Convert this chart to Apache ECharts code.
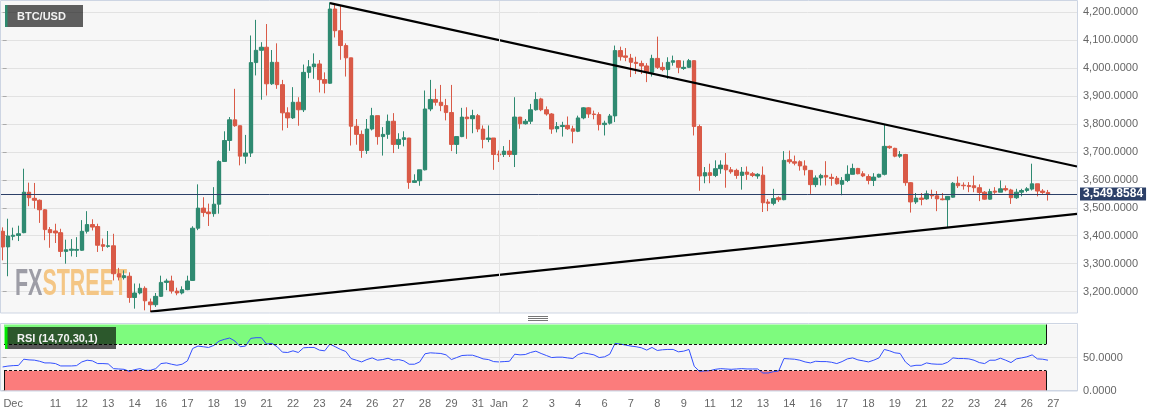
<!DOCTYPE html>
<html><head><meta charset="utf-8">
<script src="https://cdn.jsdelivr.net/npm/echarts@6/dist/echarts.min.js"></script>
<style>html,body{margin:0;padding:0;background:#fff}#c{width:1153px;height:417px}</style>
</head><body><div id="c"></div>
<script>
// ---- data (6h candles) ----
const opens = [3416,3360,3398,3401,3411,3556,3534,3527,3493,3422, 3417,3411,3344,3348,3348,3348,3416,3440,3433,3368, 3362,3364,3264,3250,3255,3179,3195,3212,3163,3153, 3183,3233,3238,3202,3195,3207,3240,3427,3499,3485, 3479,3513,3666,3741,3815,3794,3685,3696,4020,4064, 4075,3944,4021,3941,3840,3822,3878,3851,3985,4005, 4015,3959,3946,4212,4134,4081,4037,3792,3763,3705, 3782,3830,3755,3763,3810,3727,3745,3750,3591,3597, 3636,3854,3888,3878,3866,3841,3727,3755,3825,3819, 3830,3782,3745,3750,3693,3691,3703,3691,3825,3801, 3810,3851,3890,3851,3836,3783,3791,3795,3783,3774, 3822,3858,3836,3834,3798,3803,3829,4063,4044,4036, 4021,4017,4008,3985,4035,4003,3995,4021,4027,3999, 4003,4027,3791,3614,3626,3616,3640,3653,3636,3634, 3616,3628,3622,3614,3617,3521,3516,3536,3529,3672, 3665,3665,3650,3634,3583,3607,3616,3609,3606,3584, 3598,3620,3641,3622,3612,3598,3610,3620,3720,3713, 3685,3691,3590,3521,3535,3532,3548,3543,3532,3529, 3538,3588,3581,3580,3579,3572,3556,3531,3560,3556, 3569,3564,3536,3556,3562,3567,3586,3560,3555];
const closes = [3360,3399,3402,3407,3556,3536,3527,3493,3422,3411, 3410,3344,3350,3352,3351,3416,3440,3431,3366,3362, 3364,3264,3252,3257,3179,3195,3212,3167,3153,3183, 3233,3238,3202,3195,3207,3238,3427,3499,3483,3479, 3513,3666,3741,3815,3794,3685,3696,4020,4064,4075, 3944,4021,3941,3840,3822,3878,3851,3985,4005,4015, 3959,3946,4212,4134,4081,4037,3792,3763,3705,3782, 3830,3755,3763,3810,3727,3745,3751,3591,3597,3636, 3854,3888,3878,3866,3841,3727,3755,3825,3819,3830, 3782,3745,3750,3691,3689,3703,3691,3825,3801,3810, 3851,3888,3851,3836,3782,3791,3795,3783,3774,3822, 3858,3836,3834,3798,3803,3829,4063,4041,4039,4021, 4017,4008,3985,4035,4003,3995,4021,4027,4003,4003, 4027,3791,3614,3626,3616,3640,3653,3636,3629,3616, 3628,3620,3616,3620,3518,3516,3533,3529,3670,3665, 3660,3650,3636,3583,3607,3616,3610,3605,3586,3598, 3620,3641,3622,3614,3598,3610,3620,3720,3715,3685, 3691,3590,3521,3535,3530,3550,3543,3532,3529,3541, 3588,3579,3579,3576,3572,3555,3531,3558,3556,3568, 3564,3536,3556,3562,3568,3586,3560,3555,3549.8584];
const lows = [3312,3255,3384,3381,3409,3506,3497,3446,3384,3357, 3374,3324,3300,3326,3324,3346,3408,3419,3342,3345, 3357,3240,3240,3243,3160,3139,3190,3133,3127,3145, 3181,3205,3193,3187,3190,3205,3238,3420,3468,3435, 3468,3479,3664,3704,3790,3652,3658,3682,3974,3887, 3902,3940,3926,3777,3786,3818,3794,3843,3964,3962, 3913,3910,3944,4110,4030,3970,3723,3726,3679,3693, 3777,3726,3687,3747,3696,3711,3720,3568,3589,3579, 3634,3846,3866,3846,3813,3703,3693,3753,3747,3767, 3771,3713,3735,3636,3664,3682,3682,3646,3783,3798, 3800,3848,3846,3830,3765,3770,3755,3779,3731,3771, 3817,3822,3817,3777,3759,3798,3807,4027,4025,3968, 3979,3979,3950,3970,3997,3989,3962,4009,3982,3994, 4001,3759,3561,3588,3588,3610,3622,3572,3622,3604, 3565,3600,3610,3604,3485,3488,3509,3521,3527,3658, 3652,3633,3616,3550,3574,3580,3580,3579,3583,3545, 3592,3620,3620,3610,3584,3578,3608,3616,3711,3681, 3679,3579,3483,3514,3509,3529,3532,3488,3527,3428, 3536,3571,3565,3556,3556,3524,3529,3529,3550,3556, 3559,3514,3532,3541,3556,3562,3541,3550,3526];
const highs = [3430,3461,3429,3436,3640,3590,3589,3530,3495,3431, 3443,3425,3386,3388,3395,3456,3488,3459,3443,3390, 3417,3407,3285,3276,3269,3229,3229,3219,3175,3195, 3257,3246,3257,3214,3219,3257,3434,3584,3538,3515, 3574,3670,3774,3825,3926,3794,3761,4117,4173,4093, 4158,4065,4089,3958,3860,3932,3896,4013,4029,4053, 4029,3985,4236,4230,4225,4089,4037,3818,3777,3818, 3858,3830,3789,3834,3839,3767,3774,3750,3620,3636, 3920,3958,3926,3940,3890,3940,3755,3858,3860,3851, 3836,3795,3795,3750,3705,3721,3743,3896,3825,3818, 3872,3914,3894,3863,3839,3807,3808,3827,3794,3830, 3860,3860,3848,3842,3812,3836,4081,4077,4072,4051, 4041,4027,4018,4048,4113,4021,4039,4045,4029,4027, 4033,4027,3798,3646,3658,3670,3670,3696,3646,3640, 3646,3648,3628,3624,3648,3531,3568,3541,3703,3705, 3687,3670,3670,3634,3616,3622,3667,3622,3614,3610, 3652,3658,3643,3631,3620,3624,3622,3798,3723,3715, 3703,3693,3592,3553,3553,3562,3565,3560,3553,3541, 3592,3612,3591,3592,3615,3584,3560,3568,3574,3598, 3580,3568,3568,3568,3574,3658,3586,3567,3564];
const rsi = [35.7,37,37.7,38,47.4,46.4,46,44.3,41.8,41.8, 40.8,37.2,37.2,37.2,37.7,43.3,45.9,44.9,40.8,40.8, 40.3,33.1,32.6,32.1,29,31.6,33.1,30.6,30.6,33.1, 40.8,41.8,39.8,38.2,39.8,44.9,63.7,67.3,66.3,65.2, 68.3,74.9,77.5,79.5,74.9,66.3,67.3,79,80,80, 70.3,71.4,66.3,58.1,57.6,60.1,57.6,64.7,65.2,65.2, 61.2,60.1,70.3,66.3,62.2,59.1,48.4,45.9,43.3,46.9, 49.4,45.9,46.9,48.9,45.9,46.9,44.9,39.8,39.8,43.3, 55.6,57.1,56.6,56.1,54,46.9,49.9,53,53.5,53.5, 51,47.9,46.9,43.8,43.3,43.8,44.3,55,54,54.5, 57.6,59.6,56.1,53,49.9,50.5,50.5,49.4,48.4,54.5, 57.1,55.6,54,49.9,51,55,71.4,70.3,68.8,67.3, 66.3,64.7,61.2,65.2,60.7,61.7,62.2,62.2,58.6,59.6, 62.2,36.7,29,29.6,30.1,32.1,33.1,32.6,32.1,32.6, 33.1,32.6,32.6,32.6,26.5,26.5,28.5,29.6,48.4,47.9, 47.4,45.9,43.3,41.8,44.3,43.8,43.8,42.8,40.8,43.8, 47.9,49.4,46.4,44.9,43.3,45.9,49.4,62.2,60.1,57.1, 56.1,43.3,36.7,38.2,38.2,41.8,40.3,39.8,39.8,42.8, 49.4,48.4,48.4,47.9,45.9,42.3,40.8,45.9,45.9,48.9, 45.9,42.3,47.9,49.4,51,54,47.9,47.4,45.9];
const tickIndex = [2,10,15,20,25,30,35,40,45,50,55,60,65,70,75,80,85,90,94,99,104,109,114,119,124,129,134,139,144,149,154,159,164,169,174,179,184,189,194,199];
const tickText = ['Dec','11','12','13','14','16','17','18','19','21','22','23','24','26','27','28','29','31','Jan','2','3','4','6','7','8','9','11','12','13','14','16','17','18','19','21','22','23','24','26','27'];
const priceTicks = [3200,3300,3400,3500,3600,3700,3800,3900,4000,4100,4200];
const rsiTicks = [0,50];
const upperTrend = [[62,4233],[203.5,3648]];
const lowerTrend = [[28,3128],[203.5,3478]];
const lastPrice = 3549.8584;
const janIndex = 94;
const overbought = 70, oversold = 30, bandEnd = 197.65, bandStart = 0.26;
const SLOTS = 204;

// ---- chart ----
const GREEN = '#2f8a71', RED = '#d95a47', NAVY = '#2c4068';
const cats = Array.from({length: SLOTS}, (_, i) => 's' + i);
const candleData = opens.map((o, i) => [o, closes[i], lows[i], highs[i]]);
const fmt4 = v => Number(v).toLocaleString('en-US', {minimumFractionDigits: 4, maximumFractionDigits: 4});
const isTick = i => tickIndex.indexOf(i) >= 0;
const FONT = '"Liberation Sans", Arial, sans-serif';

const chart = echarts.init(document.getElementById('c'));
chart.setOption({
  animation: false,
  backgroundColor: '#ffffff',
  textStyle: {fontFamily: FONT},
  grid: [
    {left: -3, right: 76, top: 1, height: 312, show: true, backgroundColor: '#f7f7f7', borderWidth: 0},
    {left: -3, right: 76, top: 324.5, height: 66, show: true, backgroundColor: '#f7f7f7', borderWidth: 0}
  ],
  xAxis: [
    {type: 'category', gridIndex: 0, data: cats, boundaryGap: true, axisLine: {show: false}, axisTick: {show: false}, axisLabel: {show: false}, splitLine: {show: false}},
    {type: 'value', gridIndex: 0, min: -0.5, max: SLOTS - 0.5, show: false},
    {type: 'category', gridIndex: 1, data: cats, boundaryGap: true,
      axisLine: {lineStyle: {color: '#cdd5e3'}},
      axisTick: {interval: i => isTick(i) && i !== 2, alignWithLabel: true, length: 4, lineStyle: {color: '#aaaaaa'}},
      axisLabel: {interval: i => isTick(i), formatter: (v, i) => tickText[tickIndex.indexOf(i)], color: '#666', fontSize: 11, margin: 8},
      splitLine: {show: false}},
    {type: 'value', gridIndex: 1, min: -0.5, max: SLOTS - 0.5, show: false}
  ],
  yAxis: [
    {type: 'value', gridIndex: 0, position: 'right', min: 3123.4, max: 4240.5,
      axisLine: {show: false},
      axisTick: {show: true, customValues: priceTicks, length: 4, lineStyle: {color: '#aaaaaa'}},
      axisLabel: {customValues: priceTicks, formatter: fmt4, color: '#666', fontSize: 11, margin: 6},
      splitLine: {show: true, lineStyle: {color: '#e2e2e2'}}},
    {type: 'value', gridIndex: 1, position: 'right', min: 0, max: 100,
      axisLine: {show: false},
      axisTick: {show: true, customValues: rsiTicks, length: 4, lineStyle: {color: '#aaaaaa'}},
      axisLabel: {customValues: rsiTicks, formatter: fmt4, color: '#666', fontSize: 11, margin: 6},
      splitLine: {show: true, lineStyle: {color: '#e2e2e2'}}}
  ],
  series: [
    {type: 'line', xAxisIndex: 1, yAxisIndex: 0, data: [], z: 1, silent: true,
      markLine: {silent: true, symbol: 'none', label: {show: false}, lineStyle: {color: '#e4e4e4', width: 1, type: 'solid'}, data: [{xAxis: janIndex}]}},
    {type: 'line', xAxisIndex: 3, yAxisIndex: 1, data: [], z: 1, silent: true,
      markLine: {silent: true, symbol: 'none', label: {show: false}, lineStyle: {color: '#e4e4e4', width: 1, type: 'solid'},
        data: [[{coord: [janIndex, oversold]}, {coord: [janIndex, overbought]}]]}},
    {type: 'candlestick', xAxisIndex: 0, yAxisIndex: 0, data: candleData, barWidth: 5.2, z: 3, silent: true,
      itemStyle: {color: 'rgba(47,138,113,0.35)', color0: 'rgba(217,90,71,0.35)', borderColor: 'rgba(47,138,113,0.0)', borderColor0: 'rgba(217,90,71,0.0)', borderWidth: 0}},
    {type: 'candlestick', xAxisIndex: 0, yAxisIndex: 0, data: candleData, barWidth: 4, z: 3,
      itemStyle: {color: GREEN, color0: RED, borderColor: GREEN, borderColor0: RED, borderWidth: 1},
      markLine: {silent: true, symbol: 'none', animation: false,
        lineStyle: {color: NAVY, width: 1, type: 'solid'},
        label: {show: true, position: 'end', distance: 3, formatter: () => fmt4(lastPrice), backgroundColor: NAVY, color: '#ffffff', fontWeight: 'bold', fontSize: 12, padding: [1, 3, 0, 3], fontFamily: FONT},
        data: [{yAxis: lastPrice}]}},
    {type: 'line', xAxisIndex: 1, yAxisIndex: 0, data: upperTrend, symbol: 'none', silent: true, z: 4, lineStyle: {color: '#000', width: 2.2}},
    {type: 'line', xAxisIndex: 1, yAxisIndex: 0, data: lowerTrend, symbol: 'none', silent: true, z: 4, lineStyle: {color: '#000', width: 2.2}},
    {type: 'line', xAxisIndex: 3, yAxisIndex: 1, data: [], z: 2, silent: true,
      markArea: {silent: true, data: [
        [{coord: [bandStart, overbought], itemStyle: {color: '#7efb7e'}}, {coord: [bandEnd, 100]}],
        [{coord: [bandStart, 0], itemStyle: {color: '#fb7c7c'}}, {coord: [bandEnd, oversold]}]
      ]},
      markLine: {silent: true, symbol: 'none', label: {show: false}, data: [
        [{coord: [bandStart, overbought], lineStyle: {color: '#111', width: 1, type: [3, 2]}}, {coord: [bandEnd, overbought]}],
        [{coord: [bandStart, oversold], lineStyle: {color: '#111', width: 1, type: [3, 2]}}, {coord: [bandEnd, oversold]}],
        [{coord: [bandEnd, overbought], lineStyle: {color: '#111', width: 1, type: 'solid'}}, {coord: [bandEnd, 100]}],
        [{coord: [bandEnd, 0], lineStyle: {color: '#111', width: 1, type: 'solid'}}, {coord: [bandEnd, oversold]}],
        [{coord: [bandStart, 0], lineStyle: {color: '#111', width: 1, type: 'solid'}}, {coord: [bandStart, oversold]}]
      ]}},
    {type: 'line', xAxisIndex: 2, yAxisIndex: 1, data: rsi, symbol: 'none', silent: true, z: 4,
      lineStyle: {color: '#3350ff', width: 1}}
  ],
  graphic: [
    {type: 'text', x: 15, y: 266, z: 1, silent: true, scaleX: 0.58, scaleY: 1,
      style: {text: '{a|FX}{b|STREET}', verticalAlign: 'top', rich: {
        a: {fill: '#9d9da6', fontSize: 37, fontWeight: 'bold', fontFamily: FONT},
        b: {fill: '#f4c685', fontSize: 37, fontWeight: 'bold', fontFamily: FONT}}}},
    {type: 'rect', z: 50, silent: true, shape: {x: 0.5, y: 0.5, width: 1077, height: 312.5}, style: {fill: 'none', stroke: '#cdd5e3', lineWidth: 1}},
    {type: 'rect', z: 50, silent: true, shape: {x: 0.5, y: 323.5, width: 1077, height: 67.5}, style: {fill: 'none', stroke: '#cdd5e3', lineWidth: 1}},
    {type: 'rect', z: 50, silent: true, shape: {x: 528, y: 316, width: 20, height: 1}, style: {fill: '#777'}},
    {type: 'rect', z: 50, silent: true, shape: {x: 528, y: 318, width: 20, height: 1}, style: {fill: '#777'}},
    {type: 'rect', z: 50, silent: true, shape: {x: 528, y: 320, width: 20, height: 1}, style: {fill: '#777'}},
    {type: 'rect', z: 60, silent: true, shape: {x: 5, y: 5, width: 78, height: 22}, style: {fill: 'rgba(0,0,0,0.62)'}},
    {type: 'rect', z: 61, silent: true, shape: {x: 5, y: 5, width: 2.5, height: 22}, style: {fill: '#2e8b6f'}},
    {type: 'text', z: 62, silent: true, x: 17, y: 16.5, style: {text: 'BTC/USD', fill: '#f2f2f2', fontSize: 11, fontWeight: 'bold', fontFamily: FONT, verticalAlign: 'middle'}},
    {type: 'rect', z: 60, silent: true, shape: {x: 5, y: 327, width: 111, height: 22}, style: {fill: 'rgba(0,0,0,0.65)'}},
    {type: 'rect', z: 61, silent: true, shape: {x: 5, y: 327, width: 2.5, height: 22}, style: {fill: '#00e600'}},
    {type: 'text', z: 62, silent: true, x: 17, y: 338.5, style: {text: 'RSI (14,70,30,1)', fill: '#f2f2f2', fontSize: 11, fontWeight: 'bold', fontFamily: FONT, verticalAlign: 'middle'}}
  ]
});
</script>
</body></html>
